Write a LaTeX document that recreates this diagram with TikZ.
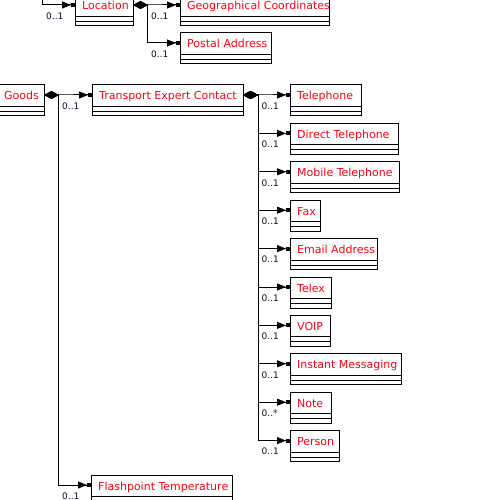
\documentclass[tikz,border=0pt]{standalone}
\usepackage{fontspec}
\setmainfont{DejaVu Sans}
\usetikzlibrary{calc,arrows.meta}
\definecolor{nametext}{RGB}{255,0,20}
\definecolor{multtext}{RGB}{10,10,40}
\tikzset{
  cbox/.style={draw=black, line width=1pt, minimum height=31pt, inner sep=0pt, outer sep=0pt, fill=white},
  ctext/.style={text=nametext, inner sep=0pt, font=\fontsize{11}{13}\selectfont},
  cline/.style={draw=black, line width=1pt},
  mult/.style={text=multtext, inner sep=0pt, font=\fontsize{9}{10}\selectfont, anchor=west},
  comp/.style={draw=black, line width=1pt, {Diamond[length=15pt,width=8pt]}-{Triangle[length=9pt,width=7pt]Rectangle[length=4pt,width=4pt]}},
  assoc/.style={draw=black, line width=1pt, -{Triangle[length=9pt,width=7pt]Rectangle[length=4pt,width=4pt]}}
}
\newcommand\cbx[5]{%
  \node[cbox, minimum width=#4pt, anchor=north west] (#1) at (#2,#3) {};
  \node[ctext, anchor=base west] (#1-t) at ($(#1.north west)+(7,15)$) {#5};
  \draw[cline] ($(#1.north west)+(0,21.5)$) -- ($(#1.north east)+(0,21.5)$);
  \draw[cline] ($(#1.north west)+(0,26.5)$) -- ($(#1.north east)+(0,26.5)$);
  \coordinate (#1-in) at ($(#1.north west)+(0,10)$);
  \coordinate (#1-out) at ($(#1.north east)+(0,10)$);
}
\begin{document}
\begin{tikzpicture}[x=1pt,y=-1pt]
\useasboundingbox (0,0) rectangle (500,500);
\clip (0,0) rectangle (500,500);
% boxes
\cbx{loc}{75}{-5}{58}{Location}
\cbx{geo}{180}{-5}{149}{Geographical Coordinates}
\cbx{postal}{180}{33}{91}{Postal Address}
\cbx{goods}{-3}{85}{47}{Goods}
\cbx{tec}{92}{85}{151}{Transport Expert Contact}
\cbx{tel}{290}{85}{71}{Telephone}
\cbx{dtel}{290}{123.4}{108}{Direct Telephone}
\cbx{mob}{290}{161.8}{109}{Mobile Telephone}
\cbx{fax}{290}{200.2}{30}{Fax}
\cbx{email}{290}{238.6}{87}{Email Address}
\cbx{telex}{290}{277}{41}{Telex}
\cbx{voip}{290}{315.4}{40}{VOIP}
\cbx{im}{290}{353.8}{111}{Instant Messaging}
\cbx{note}{290}{392.2}{41}{Note}
\cbx{person}{290}{430.6}{49}{Person}
\cbx{flash}{91}{475}{141}{Flashpoint Temperature}
% buses
\coordinate (lsrc) at (42,-3);
\coordinate (lb) at (147,5);
\coordinate (gb) at (58,95);
\coordinate (tb) at (258,95);
% connectors
\draw[assoc] (lsrc) |- (loc-in);
\draw[comp] (loc-out) -- (lb) |- (geo-in);
\draw[comp] (loc-out) -- (lb) |- (postal-in);
\draw[comp] (goods-out) -- (gb) |- (tec-in);
\draw[comp] (goods-out) -- (gb) |- (flash-in);
\foreach \c in {tel,dtel,mob,fax,email,telex,voip,im,note,person}{
  \draw[comp] (tec-out) -- (tb) |- (\c-in);
}
% multiplicities
\node[mult] (m-loc) at ($(lsrc |- loc-in)+(4,11)$) {0..1};
\node[mult] (m-geo) at ($(lb |- geo-in)+(4,11)$) {0..1};
\node[mult] (m-postal) at ($(lb |- postal-in)+(4,11)$) {0..1};
\node[mult] (m-tec) at ($(gb |- tec-in)+(4,11)$) {0..1};
\node[mult] (m-flash) at ($(gb |- flash-in)+(4,11)$) {0..1};
\foreach \c in {tel,dtel,mob,fax,email,telex,voip,im,person}{
  \node[mult] (m-\c) at ($(tb |- \c-in)+(3.5,11)$) {0..1};
}
\node[mult] (m-note) at ($(tb |- note-in)+(3.5,11)$) {0..*};
\end{tikzpicture}
\end{document}
